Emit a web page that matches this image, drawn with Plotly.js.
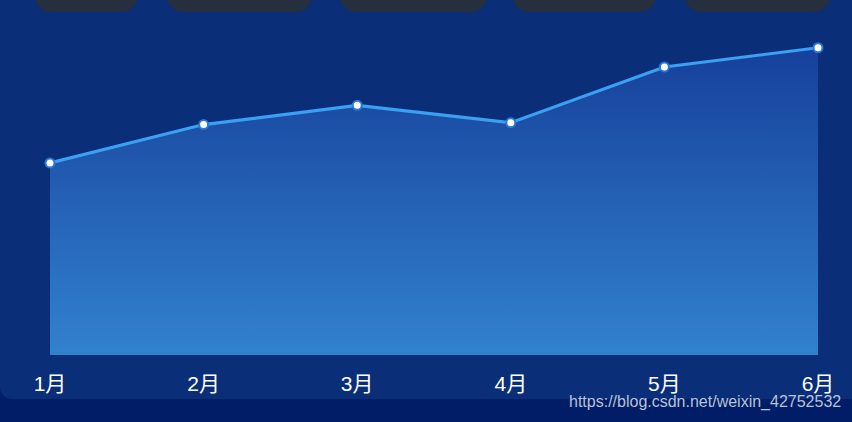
<!DOCTYPE html>
<html>
<head>
<meta charset="utf-8">
<script src="https://cdn.plot.ly/plotly-3.0.1.min.js"></script>
<style>
  html, body { margin: 0; padding: 0; background: #011d68; }
  #wrap { position: relative; width: 852px; height: 422px; overflow: hidden; background: #011d68; }
  #panel { position: absolute; left: 0; top: 0; width: 852px; height: 399px; background: #0a2e78; border-bottom-left-radius: 12px; }
  .tab { position: absolute; top: -20px; height: 32px; background: #252f3d; border-radius: 16px; }
  #chart { position: absolute; left: 0; top: 0; width: 852px; height: 422px; }
  #mark { position: absolute; left: 569px; top: 393px; font-family: "Liberation Sans", Arial, sans-serif; font-size: 16px; color: rgba(220,225,235,0.85); white-space: nowrap; }
</style>
</head>
<body>
<div id="wrap">
  <div id="panel"></div>
  <div class="tab" style="left:35px;width:103px"></div>
  <div class="tab" style="left:167px;width:145px"></div>
  <div class="tab" style="left:340px;width:147px"></div>
  <div class="tab" style="left:513px;width:143px"></div>
  <div class="tab" style="left:685px;width:145px"></div>
  <div id="chart"></div>
  <div id="mark">https://blog.csdn.net/weixin_42752532</div>
</div>
<script>
var months = ["1月", "2月", "3月", "4月", "5月", "6月"];
var values = [20, 24, 26, 24.2, 30, 32];

var trace1 = {
  x: months,
  y: values,
  type: 'scatter',
  mode: 'lines+markers',
  cliponaxis: false,
  fill: 'tozeroy',
  fillgradient: {
    type: 'vertical',
    start: 0,
    stop: 32,
    colorscale: [[0, '#3282ce'], [1, '#16409b']]
  },
  line: { color: '#3aa0f2', width: 3.2 },
  marker: { size: 9, color: '#ffffff', line: { color: '#2a78d6', width: 2 } },
  hoverinfo: 'x+y'
};

var layout = {
  width: 852,
  height: 422,
  margin: { l: 50, r: 34, t: 30, b: 67 },
  paper_bgcolor: 'rgba(0,0,0,0)',
  plot_bgcolor: 'rgba(0,0,0,0)',
  showlegend: false,
  xaxis: {
    type: 'category',
    range: [0, 5],
    showgrid: false,
    zeroline: false,
    showline: false,
    ticks: '',
    ticklabelstandoff: 14,
    tickfont: { color: '#ffffff', size: 21, family: '"Liberation Sans", "Noto Sans CJK SC", sans-serif' }
  },
  yaxis: {
    range: [0, 33.85],
    showgrid: false,
    zeroline: false,
    showline: false,
    showticklabels: false,
    ticks: ''
  }
};

Plotly.newPlot('chart', [trace1], layout, { displayModeBar: false, staticPlot: true });
</script>
</body>
</html>
